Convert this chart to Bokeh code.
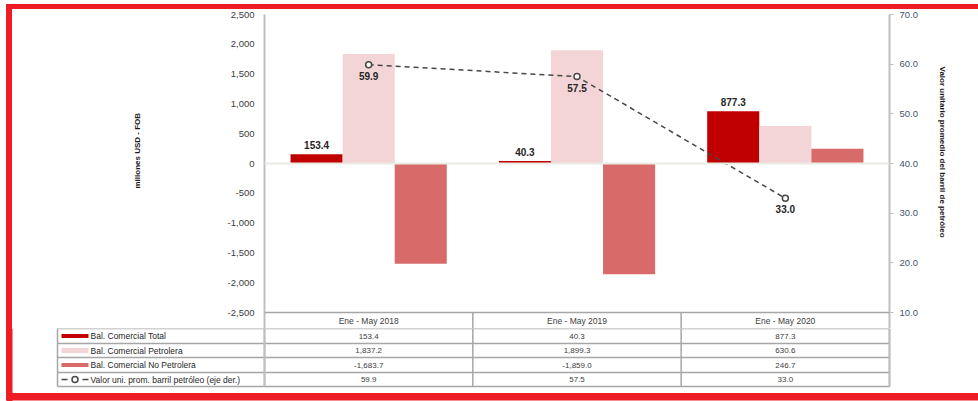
from bokeh.plotting import figure
from bokeh.models import (Range1d, FactorRange, LinearAxis, FixedTicker, Title,
                          ColumnDataSource, Span, NumeralTickFormatter, InlineStyleSheet)
from bokeh.transform import dodge
from bokeh.layouts import column
from bokeh.embed import file_html
from bokeh.resources import INLINE
from bokeh.core.properties import value

# ---------------- data ----------------
periods = ["Ene - May 2018", "Ene - May 2019", "Ene - May 2020"]
bal_total = [153.4, 40.3, 877.3]
bal_petrolera = [1837.2, 1899.3, 630.6]
bal_no_petrolera = [-1683.7, -1859.0, 246.7]
precio_barril = [59.9, 57.5, 33.0]
series_names = ["Bal. Comercial Total", "Bal. Comercial Petrolera",
                "Bal. Comercial No Petrolera",
                "Valor uni. prom. barril petróleo (eje der.)"]
left_ticks = [-2500, -2000, -1500, -1000, -500, 0, 500, 1000, 1500, 2000, 2500]
right_ticks = [10, 20, 30, 40, 50, 60, 70]
left_title = "millones USD - FOB"
right_title = "Valor unitario promedio del barril de petróleo"

# ---------------- layout constants (pixels) ----------------
W, H = 978, 401
FL, FR, FT = 264, 889, 14          # plot frame left/right/top
AX_BOT = 312                       # pixel row of lowest tick
TOP_H = 328                        # bottom of chart part (incl. header row)
RED = "#ee1c25"
GRID = "#a6a6a6"
FONT = "Liberation Sans"

C_TOTAL = "#c00000"
C_PETRO = "#f4d5d7"
C_NOPET = "#d96a6a"
C_LINE = "#474747"


def bare(fig):
    fig.xgrid.visible = False
    fig.ygrid.visible = False
    fig.outline_line_color = None
    fig.border_fill_color = "white"
    fig.background_fill_color = "white"
    fig.frame_align = False
    return fig


lmin, lmax = left_ticks[0], left_ticks[-1]
rmin, rmax = right_ticks[0], right_ticks[-1]
l_per_px = (lmax - lmin) / (AX_BOT - FT)
r_per_px = (rmax - rmin) / (AX_BOT - FT)
l_start = lmin - (TOP_H - AX_BOT) * l_per_px
r_start = rmin - (TOP_H - AX_BOT) * r_per_px

fmt1 = lambda v: f"{v:,.1f}"

src = ColumnDataSource(dict(
    period=periods, total=bal_total, petro=bal_petrolera, nopet=bal_no_petrolera,
    precio=precio_barril,
    total_lbl=[fmt1(v) for v in bal_total],
    precio_lbl=[fmt1(v) for v in precio_barril],
))

# ---------------- chart ----------------
p = bare(figure(width=W, height=TOP_H, title=None,
                x_range=FactorRange(factors=periods, range_padding=0),
                y_range=Range1d(l_start, lmax), output_backend="svg",
                toolbar_location=None, x_axis_location=None,
                min_border_left=FL, min_border_right=W - FR,
                min_border_top=FT, min_border_bottom=0))
p.extra_y_ranges = {"right": Range1d(r_start, rmax)}

ya = p.yaxis[0]
ya.ticker = FixedTicker(ticks=left_ticks)
ya.formatter = NumeralTickFormatter(format="0,0")
ya.major_tick_out = 0
ya.major_tick_in = 0
ya.minor_tick_line_color = None
ya.axis_line_color = "#bfbfbf"
ya.axis_line_width = 2
ya.major_label_standoff = 10
ya.major_label_text_font = FONT
ya.major_label_text_font_size = "9.5px"
ya.major_label_text_color = "#404040"

ra = LinearAxis(y_range_name="right", ticker=FixedTicker(ticks=right_ticks),
                formatter=NumeralTickFormatter(format="0.0"))
ra.major_tick_out = 4
ra.major_tick_in = 0
ra.major_tick_line_color = "#bfbfbf"
ra.minor_tick_line_color = None
ra.axis_line_color = "#bfbfbf"
ra.axis_line_width = 2
ra.major_label_standoff = 6
ra.major_label_text_font = FONT
ra.major_label_text_font_size = "9.5px"
ra.major_label_text_color = "#44546a"
p.add_layout(ra, "right")

# axis titles (side titles so they can sit off-centre like the original)
p.add_layout(Title(text=left_title, align="left", offset=140, vertical_align="middle",
                   standoff=164, text_font=FONT, text_font_style="bold",
                   text_font_size="8px", text_color="#1a1a1a"), "left")
p.add_layout(Title(text=right_title, align="left", offset=52, vertical_align="middle",
                   standoff=32, text_font=FONT, text_font_style="bold",
                   text_font_size="8px", text_color="#1a1a1a"), "right")

p.add_layout(Span(location=0, dimension="width", line_color="#ebebe4", line_width=2))

bw = 0.25
p.vbar(x=dodge("period", -bw, range=p.x_range), top="total", bottom=0, width=bw,
       source=src, fill_color=C_TOTAL, line_color=None)
p.vbar(x=dodge("period", 0, range=p.x_range), top="petro", bottom=0, width=bw,
       source=src, fill_color=C_PETRO, line_color=None)
p.vbar(x=dodge("period", bw, range=p.x_range), top="nopet", bottom=0, width=bw,
       source=src, fill_color=C_NOPET, line_color=None)

p.text(x=dodge("period", -bw, range=p.x_range), y="total", text="total_lbl", source=src,
       text_align="center", text_baseline="bottom", y_offset=-5,
       text_font=value(FONT), text_font_style="bold", text_font_size="10px",
       text_color="#262626")

p.line(x="period", y="precio", source=src, y_range_name="right", line_color=C_LINE,
       line_width=1.5, line_dash="5 4")
p.scatter(x="period", y="precio", source=src, y_range_name="right", marker="circle",
          size=6, fill_color="white", line_color=C_LINE, line_width=1.5)
p.text(x="period", y="precio", text="precio_lbl", source=src, y_range_name="right",
       text_align="center", text_baseline="top", y_offset=7,
       text_font=value(FONT), text_font_style="bold", text_font_size="10px",
       text_color="#262626")

# header row of the table (inside the chart frame, below the lowest tick)
p.add_layout(Span(location=lmin, dimension="width", line_color=GRID, line_width=1.5))
hdr = ColumnDataSource(dict(period=periods, y=[(lmin + l_start) / 2] * len(periods)))
p.text(x="period", y="y", text="period", source=hdr, text_align="center",
       text_baseline="middle", text_font=value(FONT), text_font_size="8.5px",
       text_color="#404040")
sep = ColumnDataSource(dict(period=periods[:-1]))
p.segment(x0=dodge("period", 0.5, range=p.x_range), y0=lmin,
          x1=dodge("period", 0.5, range=p.x_range), y1=l_start, source=sep,
          line_color=GRID, line_width=1.5)

# ---------------- table figure ----------------
TH = H - TOP_H
t = bare(figure(width=W, height=TH, x_range=Range1d(0, W), y_range=Range1d(H, TOP_H),
                title=None, output_backend="svg", toolbar_location=None,
                x_axis_location=None, y_axis_location=None,
                min_border_left=0, min_border_right=0,
                min_border_top=0, min_border_bottom=0))

row_edges = [328, 343, 357, 372, 386]
TL = 57
colw = (FR - FL) / len(periods)
col_edges = [FL + i * colw for i in range(len(periods) + 1)]

t.segment(x0=[TL] * len(row_edges), x1=[FR] * len(row_edges), y0=row_edges, y1=row_edges,
          line_color=GRID, line_width=1.5)
vx = [TL] + col_edges
t.segment(x0=vx, x1=vx, y0=[row_edges[0]] * len(vx), y1=[row_edges[-1]] * len(vx),
          line_color=GRID, line_width=1.5)
t.segment(x0=[FL, FR], x1=[FL, FR], y0=[row_edges[0]] * 2, y1=[row_edges[-1]] * 2,
          line_color="#bfbfbf", line_width=2)

rows = [bal_total, bal_petrolera, bal_no_petrolera, precio_barril]
xs, ys, txt = [], [], []
for ri, vals in enumerate(rows):
    yc = (row_edges[ri] + row_edges[ri + 1]) / 2
    for ci, v in enumerate(vals):
        xs.append(FL + (ci + 0.5) * colw)
        ys.append(yc)
        txt.append(fmt1(v))
t.text(x=xs, y=ys, text=txt, text_align="center", text_baseline="middle",
       text_font=value(FONT), text_font_size="8px", text_color="#404040")

row_c = [(row_edges[i] + row_edges[i + 1]) / 2 for i in range(4)]
t.text(x=[90] * 4, y=row_c, text=series_names, text_align="left", text_baseline="middle",
       text_font=value(FONT), text_font_size="8.5px", text_color="#262626")
t.segment(x0=[61] * 3, x1=[88] * 3, y0=row_c[:3], y1=row_c[:3],
          line_color=[C_TOTAL, C_PETRO, C_NOPET], line_width=[4, 5, 4])
t.segment(x0=[61, 82], x1=[67, 88], y0=[row_c[3]] * 2, y1=[row_c[3]] * 2,
          line_color=C_LINE, line_width=1.5)
t.scatter(x=[74.5], y=[row_c[3]], marker="circle", size=6, fill_color="white",
          line_color=C_LINE, line_width=1.5)
# lower part of the red frame drawn as glyphs too
t.quad(left=[6, 6], right=[12, W], top=[TOP_H, 393], bottom=[H, 400],
       fill_color=RED, line_color=None)

# red frame around the whole page, as an overlay on the layout
frame_css = InlineStyleSheet(css=f"""
:host {{ position: relative; }}
:host::after {{
  content: ""; position: absolute; left: 6px; top: 4px; right: 0px; bottom: 1px;
  border-left: 6px solid {RED}; border-top: 5px solid {RED}; border-bottom: 7px solid {RED};
  pointer-events: none; z-index: 10;
}}
""")

layout = column(p, t, spacing=0, stylesheets=[frame_css])
open("out.html", "w").write(file_html(layout, INLINE))
